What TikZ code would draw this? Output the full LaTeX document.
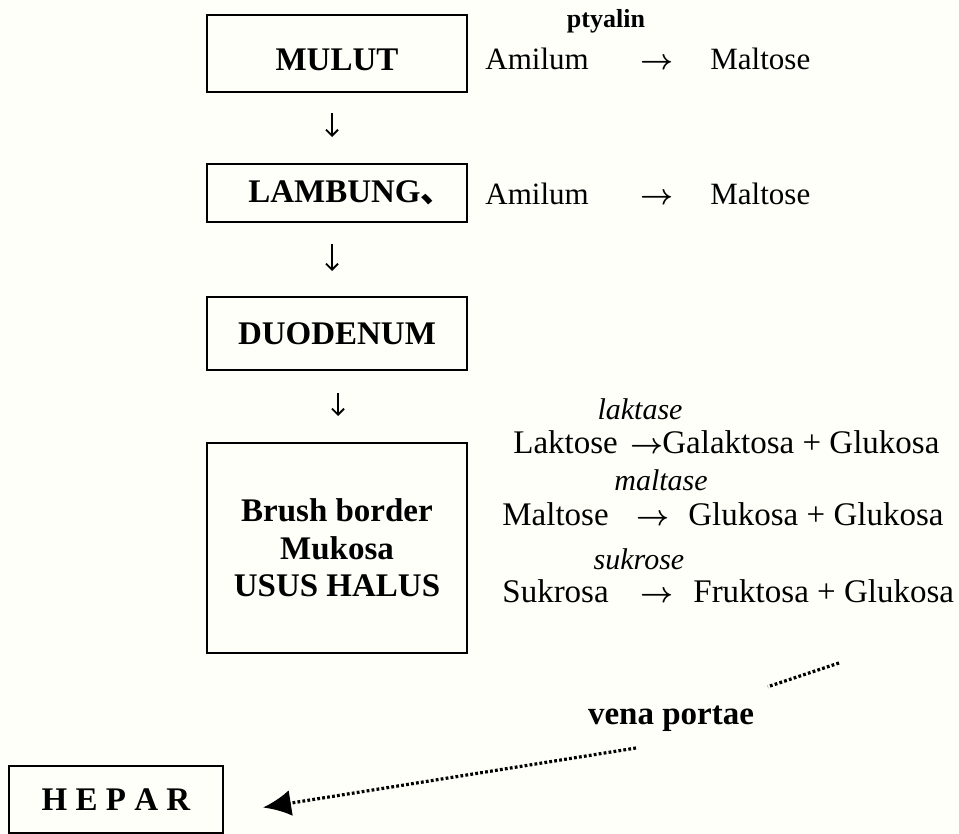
\documentclass[tikz,border=0pt]{standalone}
\usepackage{fontspec}
\setmainfont{Liberation Serif}
\newfontfamily\cjkfont{Noto Sans CJK SC}
\usetikzlibrary{positioning,arrows.meta,calc}

\begin{document}
\begin{tikzpicture}[
  x=0.5pt, y=-0.5pt,
  organ/.style={draw, line width=1pt, minimum width=130pt, inner sep=0pt,
                text centered, font=\fontsize{16.5}{19}\selectfont\bfseries},
  reaksi/.style={anchor=base west, inner sep=0pt, font=\fontsize{16.5}{19}\selectfont},
  enzim/.style={anchor=base, inner sep=0pt, font=\fontsize{15}{18}\selectfont\itshape},
  panah/.style={anchor=base, inner sep=0pt, font=\fontsize{15}{18}\selectfont\boldmath},
  alur/.style={-{Straight Barb[length=3pt,width=6pt]}, line width=0.9pt},
  vena/.style={line width=1.6pt, dash pattern=on 1.4pt off 1.1pt}
]
  \path[use as bounding box, fill=white!98!yellow] (0,0) rectangle (959,834);

  \node[organ, minimum height=38.5pt, text height=17pt] (mulut) at (337,53.5) {MULUT};
  \node[organ, minimum height=29pt] (lambung) at (337,193) {\hspace*{14pt}LAMBUNG{\cjkfont 、}};
  \node[organ, minimum height=36.5pt] (duodenum) at (337,333.5) {DUODENUM};
  \node[organ, minimum height=105pt, align=center,
        font=\fontsize{16.5}{18.8}\selectfont\bfseries] (usus) at (337,548) {Brush border\\Mukosa\\USUS HALUS};
  \node[organ, minimum width=107pt, minimum height=33.5pt] (hepar) at (116,799.5) {H E P A R};

  \node[anchor=base, inner sep=0pt, font=\fontsize{13}{15}\selectfont\bfseries] (ptyalin) at (606,28) {ptyalin};
  \node[reaksi, font=\fontsize{15.5}{18}\selectfont] (amilum1) at (485,70) {Amilum};
  \node[panah] (panah1) at (657,70) {$\rightarrow$};
  \node[reaksi, font=\fontsize{15.5}{18}\selectfont] (maltose1) at (710,70) {Maltose};

  \node[reaksi, font=\fontsize{15.5}{18}\selectfont] (amilum2) at (485,205) {Amilum};
  \node[panah] (panah2) at (657,205) {$\rightarrow$};
  \node[reaksi, font=\fontsize{15.5}{18}\selectfont] (maltose2) at (710,205) {Maltose};

  \node[enzim] (laktase) at (640,420) {laktase};
  \node[reaksi] (laktose) at (513,453) {Laktose};
  \node[panah] (panah3) at (647,453) {$\rightarrow$};
  \node[reaksi] (hasil3) at (662,453) {Galaktosa + Glukosa};

  \node[enzim] (maltase) at (661,490) {maltase};
  \node[reaksi] (maltose3) at (502,525) {Maltose};
  \node[panah] (panah4) at (653,525) {$\rightarrow$};
  \node[reaksi] (hasil4) at (688,525) {Glukosa + Glukosa};

  \node[enzim] (sukrose) at (639,569) {sukrose};
  \node[reaksi] (sukrosa) at (502,602) {Sukrosa};
  \node[panah] (panah5) at (657,602) {$\rightarrow$};
  \node[reaksi] (hasil5) at (693,602) {Fruktosa + Glukosa};

  \node[font=\fontsize{16.5}{19}\selectfont\bfseries] (portae) at (671,719) {vena portae};
  \coordinate (vatas) at (839,663);
  \coordinate (vbawah) at (636,748);

  \draw[alur, shorten <=10pt, shorten >=13pt] ([xshift=-2.5pt]mulut.south) -- ([xshift=-2.5pt]lambung.north);
  \draw[alur, shorten <=10.5pt, shorten >=12.5pt] ([xshift=-2.5pt]lambung.south) -- ([xshift=-2.5pt]duodenum.north);
  \draw[alur, shorten <=11pt, shorten >=13pt] ([xshift=0.5pt]duodenum.south) -- ([xshift=0.5pt]usus.north);
  \draw[vena, shorten >=51pt] (vatas) -- (portae.center);
  \draw[vena, -{Latex[length=14pt,width=13pt]}] (vbawah) -- ([xshift=19.5pt,yshift=-4pt]hepar.east);
\end{tikzpicture}
\end{document}
